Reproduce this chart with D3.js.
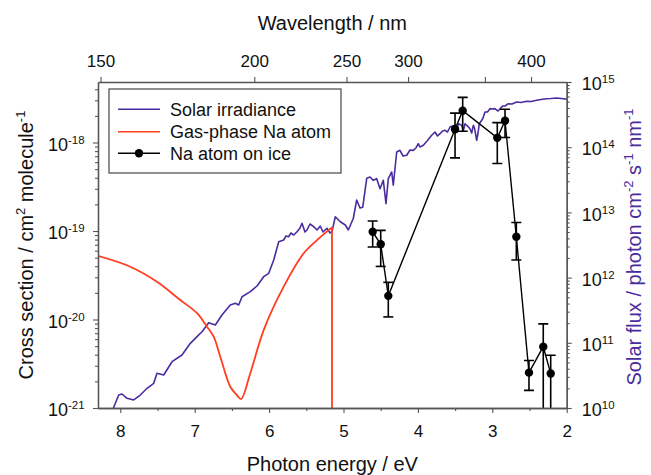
<!DOCTYPE html>
<html><head><meta charset="utf-8">
<script src="https://cdn.jsdelivr.net/npm/d3@7"></script>
<style>
body{margin:0;background:#fff}
text{font-family:"Liberation Sans",Arial,Helvetica,sans-serif}
</style>
</head><body><svg id="c" width="651" height="475"></svg>
<script>
// ---------------- DATA ----------------
// Bottom axis: photon energy (eV)
const energyTicks = [8, 7, 6, 5, 4, 3, 2];
const energyMinorTicks = [7.5, 6.5, 5.5, 4.5, 3.5, 2.5];
// Top axis: wavelength (nm) tick positions and their labels
const wavelengthTicks = [150, 200, 250, 300, 400, 500];
const wavelengthLabels = ["150", "200", "250", "300", "", "400"];
// Left axis decades (cross section, cm^2 molecule^-1)
const leftDecades = [-21, -20, -19, -18];
// Right axis decades (solar flux)
const rightDecades = [10, 11, 12, 13, 14, 15];

// Solar irradiance: photon energy (eV) and log10 flux (photon cm-2 s-1 nm-1)
const solarE = [8.11, 8.022, 7.977, 7.910, 7.820, 7.731, 7.641, 7.551, 7.507, 7.417, 7.305, 7.171, 7.059, 6.969, 6.902, 6.812, 6.723, 6.634, 6.522, 6.454, 6.409, 6.364, 6.253, 6.163, 6.073, 6.005, 5.938, 5.871,
  5.804, 5.773, 5.737, 5.706, 5.669, 5.625, 5.585, 5.558, 5.518, 5.491, 5.450, 5.401, 5.356, 5.312, 5.276, 5.222, 5.181, 5.155,
  5.110, 5.043, 4.976, 4.935, 4.868, 4.823, 4.778, 4.742, 4.688, 4.644, 4.599, 4.554, 4.509, 4.465, 4.429, 4.398, 4.352, 4.331, 4.285,
  4.241, 4.200, 4.151, 4.106, 4.062, 4.026, 3.995, 3.972, 3.927, 3.877, 3.815, 3.770, 3.737, 3.703, 3.669, 3.636, 3.602, 3.568, 3.535, 3.501, 3.478, 3.457, 3.411, 3.390, 3.367, 3.333, 3.300, 3.277, 3.255, 3.239, 3.210, 3.192, 3.175, 3.142, 3.125, 3.098, 3.065, 3.031, 2.997, 2.964, 2.923, 2.874, 2.856, 2.829, 2.785, 2.735, 2.672, 2.614, 2.538, 2.480, 2.403, 2.345, 2.269, 2.211, 2.134, 2.046, 2.0];
const solarLogFlux = [9.95, 10.199, 10.215, 10.149, 10.123, 10.199, 10.302, 10.379, 10.532, 10.506, 10.710, 10.813, 10.992, 11.094, 11.170, 11.308, 11.273, 11.426, 11.580, 11.606, 11.580, 11.707, 11.784, 11.871, 12.014, 12.066, 12.270, 12.551,
  12.577, 12.638, 12.627, 12.684, 12.653, 12.704, 12.761, 12.833, 12.699, 12.730, 12.822, 12.781, 12.730, 12.791, 12.699, 12.756, 12.684, 12.704,
  12.934, 12.857, 12.807, 12.730, 12.910, 13.190, 13.067, 13.078, 13.523, 13.543, 13.492, 13.517, 13.363, 13.492, 13.133, 13.517, 13.620, 13.416, 13.926,
  13.952, 13.865, 13.876, 13.957, 13.952, 13.988, 14.054, 14.003, 14.029, 14.095, 14.183, 14.233, 14.172, 14.207, 14.248, 14.259, 14.233, 14.310, 14.325, 14.336, 14.264, 14.360, 14.336, 14.248, 14.360, 14.325, 14.284, 14.218, 14.336, 14.294, 14.106, 14.218, 14.360, 14.413, 14.448, 14.540, 14.540, 14.591, 14.586, 14.591, 14.555, 14.617, 14.632, 14.632, 14.667, 14.663, 14.693, 14.686, 14.704, 14.701, 14.719, 14.732, 14.744, 14.747, 14.755, 14.744, 14.737];

// Gas-phase Na atom cross section (cm^2); last point is the vertical cut-off
const gasE = [8.31, 7.866, 7.507, 7.194, 6.969, 6.835, 6.745, 6.656, 6.522, 6.432, 6.378, 6.253, 6.073, 5.804, 5.535, 5.356, 5.155, 5.155];
const gasSigma = [5.26e-20, 3.95e-20, 2.67e-20, 1.66e-20, 1.18e-20, 8.3e-21, 6.4e-21, 3.8e-21, 1.74e-21, 1.40e-21, 1.26e-21, 2.47e-21, 7.6e-21, 2.35e-20, 5.6e-20, 7.9e-20, 1.1e-19, 1e-22];

// Na atom on ice cross section (cm^2) with error
const iceE = [4.608, 4.500, 4.398, 3.501, 3.398, 2.933, 2.829, 2.677, 2.507, 2.315, 2.215];
const iceSigma = [9.8e-20, 7.08e-20, 1.85e-20, 1.41e-18, 2.29e-18, 1.13e-18, 1.76e-18, 8.6e-20, 2.51e-21, 4.93e-21, 2.45e-21];
const iceErr = [3.2e-20, 3.1e-20, 7.8e-21, 7.4e-19, 9.5e-19, 5.5e-19, 6.2e-19, 3.9e-20, 9.3e-22, 4.0e-21, 1.5e-21];

const seriesNames = ["Solar irradiance", "Gas-phase Na atom", "Na atom on ice"];
const colors = {solar: "#4a2c9e", gas: "#ff3d1f", ice: "#000000", axis: "#555555"};

// ---------------- LAYOUT ----------------
const svg = d3.select("#c");
const L = 98, R = 566.7, T = 82, B = 408;
const x = d3.scaleLinear().domain([8.3, 2]).range([L, R]);
const yL = d3.scaleLog().domain([1e-21, Math.pow(10, -17.316)]).range([B, T]);
const yR = d3.scaleLog().domain([1e10, 1e15]).range([B, T]);

svg.append("defs").append("clipPath").attr("id", "clip")
  .append("rect").attr("x", L).attr("y", T).attr("width", R - L).attr("height", B - T);

// ---------------- DATA MARKS ----------------
const plot = svg.append("g").attr("clip-path", "url(#clip)");

const solar = solarE.map((e, i) => [e, Math.pow(10, solarLogFlux[i])]);
plot.append("path").datum(solar)
  .attr("fill", "none").attr("stroke", colors.solar).attr("stroke-width", 1.6)
  .attr("stroke-linejoin", "round")
  .attr("d", d3.line().x(d => x(d[0])).y(d => yR(d[1])));

const gas = gasE.map((e, i) => [e, gasSigma[i]]);
const gasSmooth = gas.slice(0, gas.length - 1);
const gasDrop = gas.slice(gas.length - 2);
plot.append("path").datum(gasSmooth)
  .attr("fill", "none").attr("stroke", colors.gas).attr("stroke-width", 1.8)
  .attr("stroke-linejoin", "round")
  .attr("d", d3.line().curve(d3.curveCatmullRom.alpha(0.5)).x(d => x(d[0])).y(d => yL(d[1])));
plot.append("path").datum(gasDrop)
  .attr("fill", "none").attr("stroke", colors.gas).attr("stroke-width", 1.8)
  .attr("d", d3.line().x(d => x(d[0])).y(d => yL(d[1])));

const ice = iceE.map((e, i) => ({e, s: iceSigma[i], err: iceErr[i]}));
plot.append("path").datum(ice)
  .attr("fill", "none").attr("stroke", colors.ice).attr("stroke-width", 1.4)
  .attr("d", d3.line().x(d => x(d.e)).y(d => yL(d.s)));

const eb = plot.append("g").attr("stroke", "#000").attr("stroke-width", 1.6);
ice.forEach(d => {
  const cx = x(d.e);
  const top = yL(d.s + d.err);
  const lowV = d.s - d.err;
  const bot = lowV > 1e-22 ? yL(lowV) : B + 10;
  eb.append("line").attr("x1", cx).attr("x2", cx).attr("y1", top).attr("y2", bot);
  eb.append("line").attr("x1", cx - 5).attr("x2", cx + 5).attr("y1", top).attr("y2", top);
  eb.append("line").attr("x1", cx - 5).attr("x2", cx + 5).attr("y1", bot).attr("y2", bot);
});
plot.append("g").selectAll("circle").data(ice).join("circle")
  .attr("cx", d => x(d.e)).attr("cy", d => yL(d.s)).attr("r", 4.2).attr("fill", "#000");

// ---------------- AXES ----------------
function styleAxis(g) {
  g.selectAll("path.domain").attr("stroke", colors.axis).attr("stroke-width", 1.3);
  g.selectAll(".tick line").attr("stroke", colors.axis).attr("stroke-width", 1.1);
  g.selectAll(".tick text").attr("fill", "#111").attr("font-size", 17)
    .attr("font-family", '"Liberation Sans",Arial,sans-serif');
}

// Bottom
svg.append("g").attr("transform", `translate(0,${B})`)
  .call(d3.axisBottom(x).tickValues(energyMinorTicks).tickSize(3).tickSizeOuter(0).tickFormat(""))
  .call(styleAxis);
svg.append("g").attr("transform", `translate(0,${B})`)
  .call(d3.axisBottom(x).tickValues(energyTicks).tickSize(5).tickSizeOuter(0).tickPadding(12).tickFormat(d3.format("d")))
  .call(styleAxis);

// Top (wavelength)
const wlMap = new Map(wavelengthTicks.map((w, i) => [1239.84 / w, wavelengthLabels[i]]));
svg.append("g").attr("transform", `translate(0,${T})`)
  .call(d3.axisTop(x).tickValues([...wlMap.keys()]).tickSize(5).tickSizeOuter(0).tickPadding(10)
    .tickFormat(d => wlMap.get(d)))
  .call(styleAxis);

// Log minor tick helper
function minors(decs, dom) {
  const out = [];
  decs.forEach(p => { for (let k = 2; k <= 9; k++) { const v = k * Math.pow(10, p); if (v >= dom[0] && v <= dom[1]) out.push(v); } });
  return out;
}

// Left
const lDom = yL.domain();
svg.append("g").attr("transform", `translate(${L},0)`)
  .call(d3.axisLeft(yL).tickValues(minors(leftDecades, lDom)).tickSize(3).tickSizeOuter(0).tickFormat(""))
  .call(styleAxis);
const gl = svg.append("g").attr("transform", `translate(${L},0)`)
  .call(d3.axisLeft(yL).tickValues(leftDecades.map(p => Math.pow(10, p))).tickSize(5).tickSizeOuter(0))
  .call(styleAxis);
gl.selectAll(".tick text").each(function(d) {
  const t = d3.select(this).text("").attr("text-anchor", "start").attr("x", -50).attr("dy", "0.45em");
  t.append("tspan").attr("font-size", 18).text("10");
  t.append("tspan").attr("dy", -7).attr("font-size", 11.5).text(Math.round(Math.log10(d)));
});

// Right
const rDom = yR.domain();
svg.append("g").attr("transform", `translate(${R},0)`)
  .call(d3.axisRight(yR).tickValues(minors(rightDecades, rDom)).tickSize(3).tickSizeOuter(0).tickFormat(""))
  .call(styleAxis);
const gr = svg.append("g").attr("transform", `translate(${R},0)`)
  .call(d3.axisRight(yR).tickValues(rightDecades.map(p => Math.pow(10, p))).tickSize(5).tickSizeOuter(0))
  .call(styleAxis);
gr.selectAll(".tick text").each(function(d) {
  const t = d3.select(this).text("").attr("text-anchor", "start").attr("x", 15).attr("dy", "0.45em");
  t.append("tspan").attr("font-size", 18).text("10");
  t.append("tspan").attr("dy", -7).attr("font-size", 11.5).text(Math.round(Math.log10(d)));
});

// ---------------- TITLES ----------------
svg.append("text").attr("x", (L + R) / 2).attr("y", 30).attr("text-anchor", "middle")
  .attr("font-size", 20).attr("fill", "#111").text("Wavelength / nm");
svg.append("text").attr("x", (L + R) / 2).attr("y", 471).attr("text-anchor", "middle")
  .attr("font-size", 20).attr("fill", "#111").text("Photon energy / eV");

const lt = svg.append("text").attr("transform", `translate(33,${(T + B) / 2}) rotate(-90)`)
  .attr("text-anchor", "middle").attr("font-size", 20).attr("fill", "#111");
lt.append("tspan").text("Cross section / cm");
lt.append("tspan").attr("dy", -8).attr("font-size", 13).text("2");
lt.append("tspan").attr("dy", 8).text(" molecule");
lt.append("tspan").attr("dy", -8).attr("font-size", 13).text("-1");

const rt = svg.append("text").attr("transform", `translate(641,${(T + B) / 2 + 2}) rotate(-90)`)
  .attr("text-anchor", "middle").attr("font-size", 20).attr("fill", colors.solar);
rt.append("tspan").text("Solar flux / photon cm");
rt.append("tspan").attr("dy", -8).attr("font-size", 13).text("-2");
rt.append("tspan").attr("dy", 8).text(" s");
rt.append("tspan").attr("dy", -8).attr("font-size", 13).text("-1");
rt.append("tspan").attr("dy", 8).text(" nm");
rt.append("tspan").attr("dy", -8).attr("font-size", 13).text("-1");

// ---------------- LEGEND ----------------
const lg = svg.append("g");
lg.append("rect").attr("x", 109).attr("y", 89).attr("width", 232).attr("height", 84)
  .attr("fill", "#fff").attr("stroke", colors.axis).attr("stroke-width", 1.3);
const legendColors = [colors.solar, colors.gas, colors.ice];
const rowsY = [109.3, 131.7, 153.3];
seriesNames.forEach((name, i) => {
  lg.append("line").attr("x1", 118).attr("x2", 160).attr("y1", rowsY[i]).attr("y2", rowsY[i])
    .attr("stroke", legendColors[i]).attr("stroke-width", 1.6);
  if (i === 2) lg.append("circle").attr("cx", 139).attr("cy", rowsY[i]).attr("r", 4.2).attr("fill", "#000");
  lg.append("text").attr("x", 170).attr("y", rowsY[i] + 6.3).attr("font-size", 18).attr("fill", "#111").text(name);
});
</script></body></html>
